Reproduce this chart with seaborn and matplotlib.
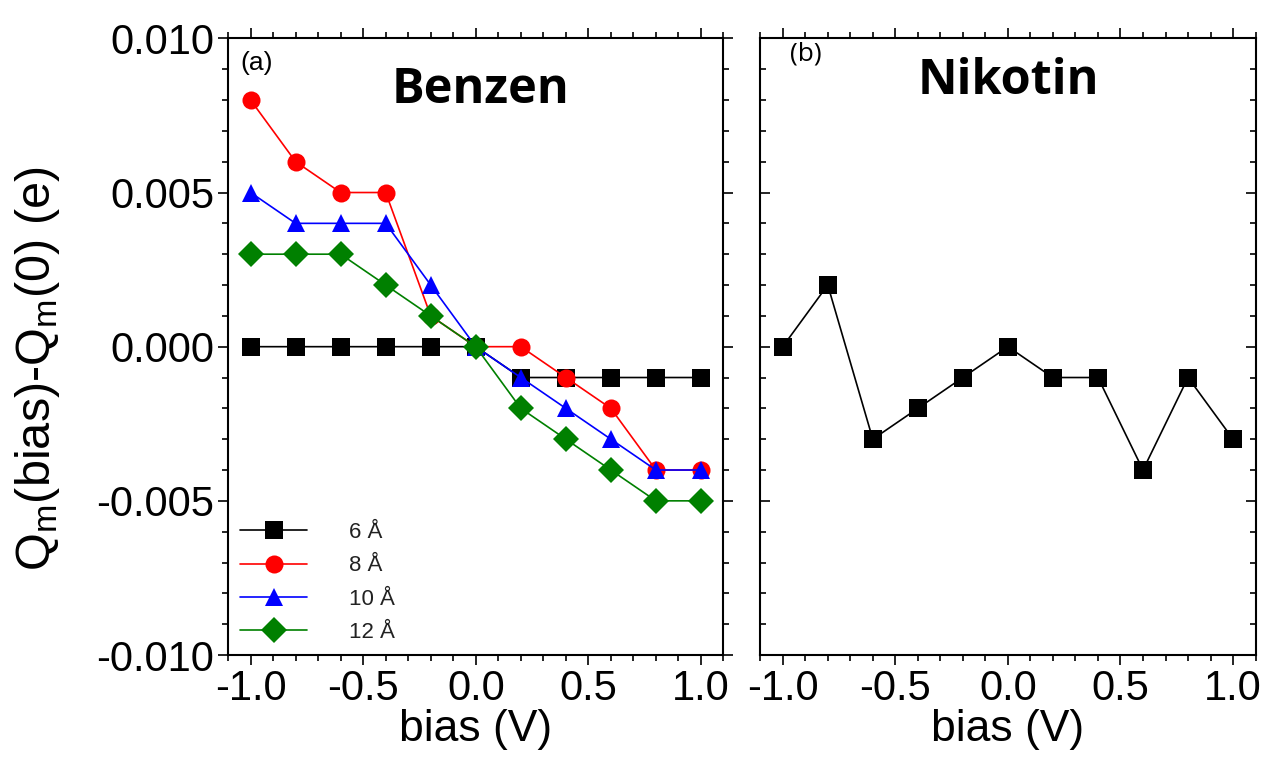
import numpy as np
import pandas as pd
import matplotlib
matplotlib.use("Agg")
import matplotlib.pyplot as plt
import matplotlib.ticker as mtick
import seaborn as sns

# data
bias = [-1.0, -0.8, -0.6, -0.4, -0.2, 0.0, 0.2, 0.4, 0.6, 0.8, 1.0]
q_6 = [0, 0, 0, 0, 0, 0, -0.001, -0.001, -0.001, -0.001, -0.001]
q_8 = [0.008, 0.006, 0.005, 0.005, 0.001, 0, 0, -0.001, -0.002, -0.004, -0.004]
q_10 = [0.005, 0.004, 0.004, 0.004, 0.002, 0, -0.001, -0.002, -0.003, -0.004, -0.004]
q_12 = [0.003, 0.003, 0.003, 0.002, 0.001, 0, -0.002, -0.003, -0.004, -0.005, -0.005]
q_nikotin = [0, 0.002, -0.003, -0.002, -0.001, 0, -0.001, -0.001, -0.004, -0.001, -0.003]

gap_labels = ["6 Å", "8 Å", "10 Å", "12 Å"]
gap_colors = ["#000000", "#ff0000", "#0000ff", "#008000"]
gap_markers = ["s", "o", "^", "D"]

sns.set_theme(style="ticks")
plt.rcParams["font.family"] = ["Liberation Sans", "DejaVu Sans"]
plt.rcParams.update({
    "mathtext.fontset": "custom",
    "mathtext.rm": "Liberation Sans",
    "mathtext.it": "Liberation Sans",
    "text.color": "black",
    "axes.labelcolor": "black",
    "xtick.color": "black",
    "ytick.color": "black",
})

benzen = pd.DataFrame({
    "bias": bias * 4,
    "dq": q_6 + q_8 + q_10 + q_12,
    "gap": [g for g in gap_labels for _ in bias],
})
nikotin = pd.DataFrame({"bias": bias, "dq": q_nikotin})

fig = plt.figure(figsize=(12.67, 7.67), dpi=100)
ax1 = fig.add_axes([0.180, 0.146, 0.391, 0.804])
ax2 = fig.add_axes([0.600, 0.146, 0.391, 0.804])

sns.lineplot(data=benzen, x="bias", y="dq", hue="gap", style="gap",
             hue_order=gap_labels, style_order=gap_labels,
             palette=dict(zip(gap_labels, gap_colors)),
             markers=dict(zip(gap_labels, gap_markers)), dashes=False,
             markersize=13, markeredgewidth=0, linewidth=1.2,
             errorbar=None, ax=ax1)
sns.lineplot(data=nikotin, x="bias", y="dq", color="black", marker="s",
             markersize=13, markeredgewidth=0, linewidth=1.2,
             errorbar=None, ax=ax2)

for ax in (ax1, ax2):
    ax.set_xlim(-1.1, 1.1)
    ax.set_ylim(-0.010, 0.010)
    ax.xaxis.set_major_locator(mtick.MultipleLocator(0.5))
    ax.xaxis.set_minor_locator(mtick.MultipleLocator(0.1))
    ax.yaxis.set_major_locator(mtick.MultipleLocator(0.005))
    ax.yaxis.set_minor_locator(mtick.MultipleLocator(0.001))
    ax.xaxis.set_major_formatter(mtick.FormatStrFormatter("%.1f"))
    ax.tick_params(axis="both", which="both", top=True, right=True,
                   direction="in", width=1.2, colors="black")
    ax.tick_params(axis="x", which="both", bottom=True, direction="out")
    ax.tick_params(which="major", length=7)
    ax.tick_params(which="minor", length=4)
    ax.tick_params(axis="both", labelsize=30, pad=3)
    ax.set_xlabel("bias (V)", fontsize=32, labelpad=0)
    for s in ax.spines.values():
        s.set_linewidth(1.5)
        s.set_color("black")

ax1.yaxis.set_major_formatter(mtick.FormatStrFormatter("%.3f"))
ax1.tick_params(axis="y", which="both", direction="out")
ax1.set_ylabel("Q$_m$(bias)-Q$_m$(0) (e)", fontsize=35)
ax1.yaxis.set_label_coords(-0.335, 0.465)
ax2.set_ylabel("")
ax2.tick_params(axis="y", labelleft=False)

ax1.text(0.51, 0.915, "Benzen", transform=ax1.transAxes, ha="center",
         va="center", fontsize=35, fontweight="bold", family="Open Sans")
ax2.text(0.50, 0.93, "Nikotin", transform=ax2.transAxes, ha="center",
         va="center", fontsize=35, fontweight="bold", family="Open Sans")
ax1.text(0.025, 0.96, "(a)", transform=ax1.transAxes, ha="left",
         va="center", fontsize=19)
ax2.text(0.06, 0.975, "(b)", transform=ax2.transAxes, ha="left",
         va="center", fontsize=19, family="Open Sans")

leg = ax1.legend(loc="lower left", frameon=False, fontsize=16, title=None,
                 handlelength=3.0, handletextpad=1.9, labelspacing=0.55,
                 borderaxespad=0.2, borderpad=0.35)
for t in leg.get_texts():
    t.set_color("#222222")

fig.savefig("out.png", dpi=100)
